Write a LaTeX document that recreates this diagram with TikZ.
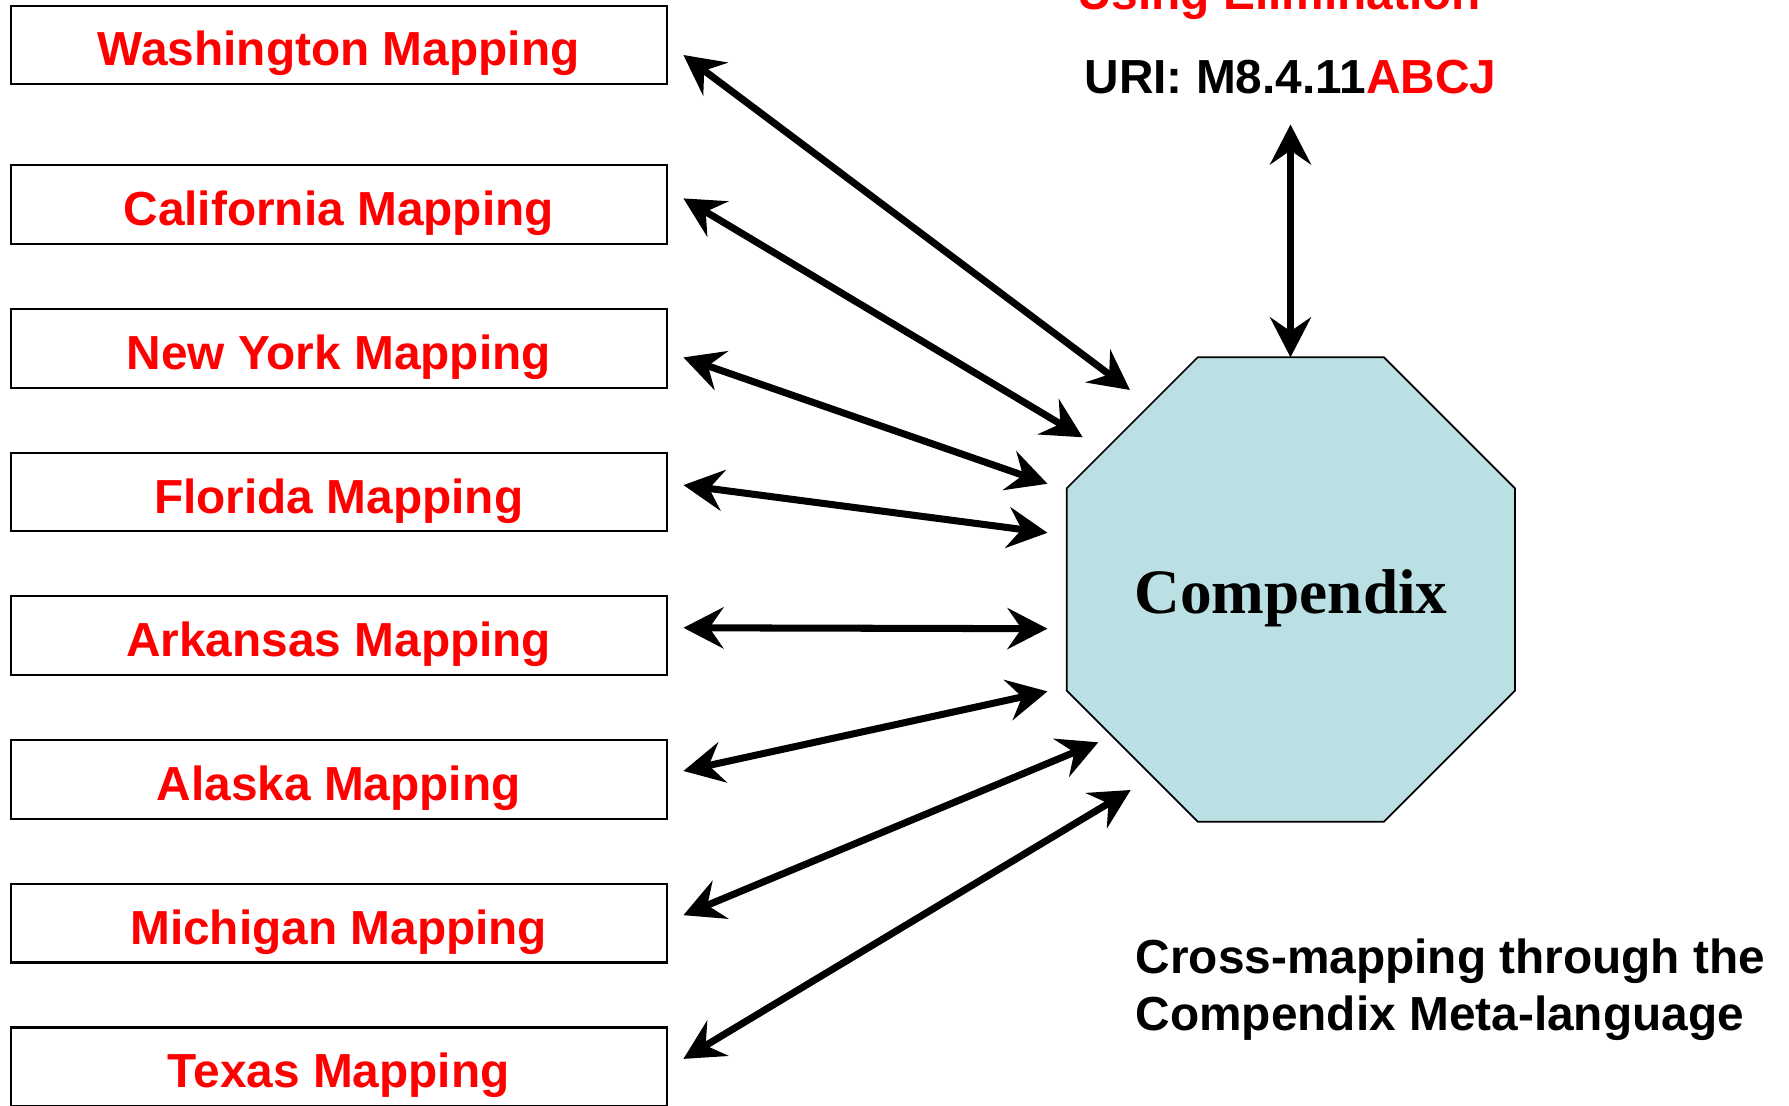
\documentclass[tikz,border=0pt]{standalone}
\usepackage{fontspec}
\setsansfont{Liberation Sans}
\newfontfamily\timesbf{Liberation Serif}
\usepackage{tikz}
\usetikzlibrary{arrows.meta, positioning, calc}

\definecolor{mapred}{RGB}{255,0,0}
\definecolor{octafill}{RGB}{186,224,228}
\newcommand{\mapfont}{\sffamily\bfseries\fontsize{13.6}{16.4}\selectfont}

\begin{document}
\begin{tikzpicture}[
  mapbox/.style={draw, line width=0.6pt, minimum width=6.56cm, minimum height=0.787cm,
    inner sep=0pt, outer sep=0pt, text height=0.5cm, text depth=0.08cm,
    text=mapred, font=\mapfont},
  linkarrow/.style={{Stealth[length=4mm, width=4.1mm, inset=1.4mm]}-{Stealth[length=4mm, width=4.1mm, inset=1.4mm]}, line width=2pt},
]
\useasboundingbox (0,0) rectangle (17.89,11.05);
\clip (0,0) rectangle (17.89,11.05);

% --- Mapping boxes (left column) ---
\def\boxX{3.387}  % column centre
\def\gapY{0.65cm} % gap between boxes

\node[mapbox] (wa) at (\boxX, 10.60) {Washington Mapping};
\node[mapbox, below=0.81cm of wa] (ca) {California Mapping};
\node[mapbox, below=\gapY of ca] (ny) {New York Mapping};
\node[mapbox, below=\gapY of ny] (fl) {Florida Mapping};
\node[mapbox, below=\gapY of fl] (ar) {Arkansas Mapping};
\node[mapbox, below=\gapY of ar] (ak) {Alaska Mapping};
\node[mapbox, below=\gapY of ak] (mi) {Michigan Mapping};
\node[mapbox, below=\gapY of mi] (tx) {Texas Mapping};

% --- Compendix octagon ---
\filldraw[fill=octafill, draw=black, line width=0.5pt]
  (11.977,7.477) -- (13.840,7.477) -- (15.150,6.167) -- (15.150,4.143)
  -- (13.840,2.833) -- (11.977,2.833) -- (10.667,4.143) -- (10.667,6.167) -- cycle;
\node[font=\timesbf\bfseries\fontsize{18}{21}\selectfont, anchor=base, inner sep=0pt] (comp) at (12.91, 4.917) {Compendix};

% arrow ends around the octagon
\coordinate (e1) at (11.300, 7.150);
\coordinate (e2) at (10.827, 6.677);
\coordinate (e3) at (10.475, 6.212);
\coordinate (e4) at (10.475, 5.722);
\coordinate (e5) at (10.475, 4.763);
\coordinate (e6) at (10.475, 4.136);
\coordinate (e7) at (10.983, 3.627);
\coordinate (e8) at (11.307, 3.150);
\coordinate (otop) at (12.905, 7.477);

% --- Two-way links ---
\draw[linkarrow] ([shift={(0.167,-0.10)}]wa.east) -- (e1);
\draw[linkarrow] ([shift={(0.167,0.063)}]ca.east) -- (e2);
\draw[linkarrow] ([shift={(0.167,-0.09)}]ny.east) -- (e3);
\draw[linkarrow] ([shift={(0.167,0.07)}]fl.east) -- (e4);
\draw[linkarrow] ([shift={(0.167,0.08)}]ar.east) -- (e5);
\draw[linkarrow] ([shift={(0.167,0.085)}]ak.east) -- (e6);
\draw[linkarrow] ([shift={(0.167,0.08)}]mi.east) -- (e7);
\draw[linkarrow] ([shift={(0.167,0.08)}]tx.east) -- (e8);

% --- URI on top ---
\node[font=\mapfont, text=mapred, anchor=base, inner sep=0pt] (elim) at (12.79, 10.957) {Using Elimination};
\node[font=\mapfont, anchor=base, inner sep=0pt] (uri) at (12.905, 10.117) {URI: M8.4.11\textcolor{mapred}{ABCJ}};
\draw[linkarrow] ([yshift=-0.3cm]uri.south) -- (otop);

% --- Caption note (base = last line) ---
\node[font=\mapfont, align=left, anchor=base west, inner sep=0pt] (note) at (11.35, 0.74) {Cross-mapping through the\\Compendix Meta-language};

\end{tikzpicture}
\end{document}
